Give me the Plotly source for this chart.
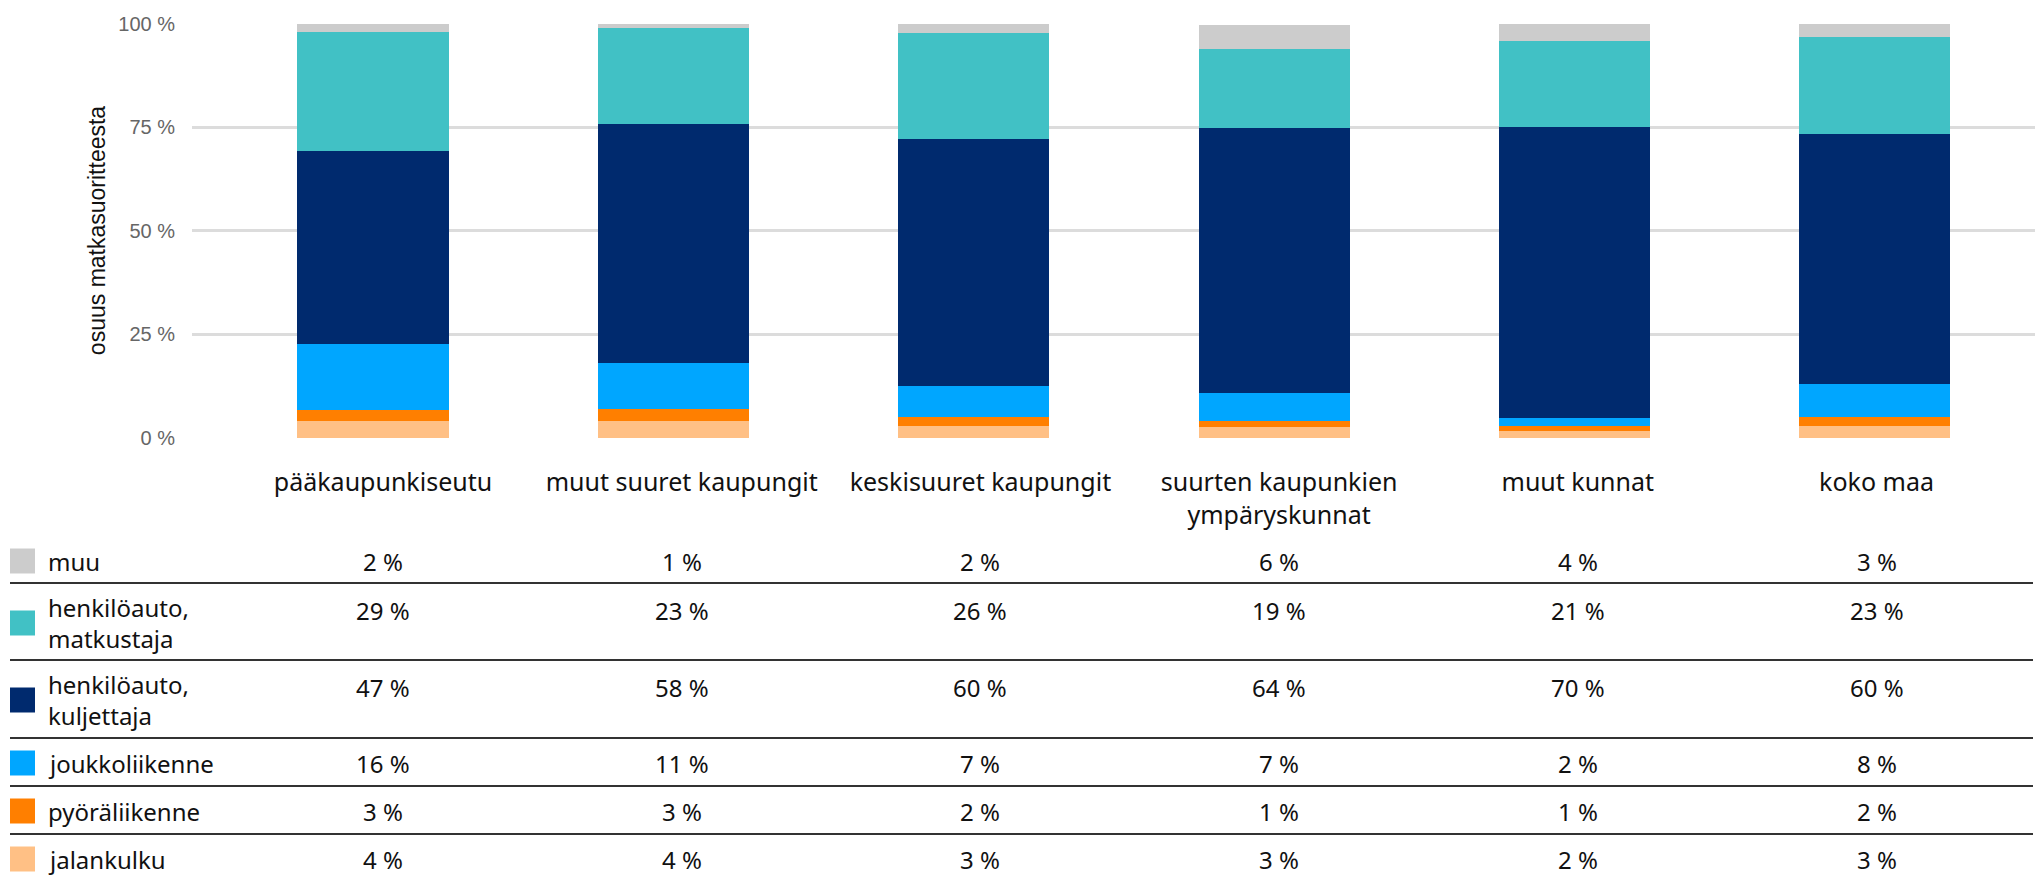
import plotly.graph_objects as go

categories = ["pääkaupunkiseutu", "muut suuret kaupungit", "keskisuuret kaupungit",
              "suurten kaupunkien<br>ympäryskunnat", "muut kunnat", "koko maa"]

series_names = ["jalankulku", "pyöräliikenne", "joukkoliikenne",
                "henkilöauto,<br>kuljettaja", "henkilöauto,<br>matkustaja", "muu"]
series_colors = ["#ffc085", "#ff7f00", "#00a6ff", "#002a6e", "#41c1c5", "#cccccc"]

jalankulku = [4.2, 4.1, 2.9, 2.7, 1.6, 2.9]
pyoraliikenne = [2.6, 2.9, 2.2, 1.4, 1.3, 2.2]
joukkoliikenne = [15.9, 11.1, 7.4, 6.7, 1.9, 7.9]
kuljettaja = [46.7, 57.7, 59.8, 64.1, 70.4, 60.4]
matkustaja = [28.7, 23.2, 25.6, 19.1, 20.6, 23.4]
muu = [1.9, 1.0, 2.1, 5.7, 4.2, 3.2]
series_values = [jalankulku, pyoraliikenne, joukkoliikenne, kuljettaja, matkustaja, muu]

y_ticks = [0, 25, 50, 75, 100]
y_tick_labels = ["0 %", "25 %", "50 %", "75 %", "100 %"]

W, H = 2039, 877
L, R, T, B = 192, 4, 23, 439
plot_w = W - L - R
plot_h = H - T - B
bottom_px = H - B


def px_x(p):
    return (p - L) / plot_w


def px_y(p):
    return (bottom_px - p) / plot_h


fig = go.Figure()
for name, color, vals in zip(series_names, series_colors, series_values):
    fig.add_trace(go.Bar(
        x=categories, y=vals, name=name.replace("<br>", " "),
        marker=dict(color=color, line=dict(width=0)),
        width=0.503, showlegend=False, hoverinfo="skip",
    ))

# table rows, top to bottom
table_rows = list(reversed(list(zip(series_names, series_colors, series_values))))
row_centers = [561, 623, 700, 763, 811, 859]
value_y = [561, 610, 687, 763, 811, 859]
sep_lines = [583, 660, 738, 786, 834]

annotations = []
shapes = []
font_table = dict(family="Noto Sans", size=24, color="#111111")
for (name, color, vals), yc, yv in zip(table_rows, row_centers, value_y):
    shapes.append(dict(type="rect", xref="paper", yref="paper",
                       x0=px_x(10), x1=px_x(35), y0=px_y(yc - 12.5), y1=px_y(yc + 12.5),
                       fillcolor=color, line=dict(width=0), layer="above"))
    annotations.append(dict(xref="paper", yref="paper", x=px_x(46), y=px_y(yc),
                            text=name, showarrow=False, xanchor="left", yanchor="middle",
                            align="left", font=font_table))
    for i, v in enumerate(vals):
        annotations.append(dict(xref="x2", yref="paper", x=i, y=px_y(yv),
                                text=f"{round(v)} %", showarrow=False,
                                xanchor="center", yanchor="middle", font=font_table))
for ly in sep_lines:
    shapes.append(dict(type="line", xref="paper", yref="paper",
                       x0=px_x(10), x1=px_x(2033), y0=px_y(ly), y1=px_y(ly),
                       line=dict(color="#333333", width=2)))

# column (label/table) centres sit slightly offset from bar centres
col_first, col_last = 383.0, 1876.5
col_scale = (col_last - col_first) / (len(categories) - 1)
x2_r0 = -(col_first - L) / col_scale
x2_r1 = x2_r0 + plot_w / col_scale

fig.update_layout(
    width=W, height=H,
    margin=dict(l=L, r=R, t=T, b=B, pad=0),
    barmode="stack",
    bargap=0,
    plot_bgcolor="white", paper_bgcolor="white",
    annotations=annotations, shapes=shapes,
    xaxis=dict(range=[-0.6025, 5.533], showgrid=False, zeroline=False, showline=False,
               showticklabels=False, ticks="", fixedrange=True),
    xaxis2=dict(overlaying="x", side="bottom", type="linear", range=[x2_r0, x2_r1],
                tickvals=list(range(len(categories))), ticktext=categories,
                showgrid=False, zeroline=False, showline=False,
                ticks="outside", ticklen=22, tickcolor="rgba(0,0,0,0)",
                tickfont=dict(family="Noto Sans", size=25, color="#111111"),
                fixedrange=True),
    yaxis=dict(range=[0, 100.2], tickvals=y_ticks, ticktext=y_tick_labels,
               showgrid=True, gridcolor="#dcdcdc", gridwidth=2.5, zeroline=False,
               showline=False, ticks="outside", ticklen=12, tickcolor="rgba(0,0,0,0)",
               tickfont=dict(family="Liberation Sans", size=20, color="#666666"),
               title=dict(text="osuus matkasuoritteesta",
                          font=dict(family="Liberation Sans", size=23, color="#111111"),
                          standoff=6),
               fixedrange=True),
)

fig.write_html("out.html", config={"displayModeBar": False},
               post_script="document.body.style.margin='0';")
